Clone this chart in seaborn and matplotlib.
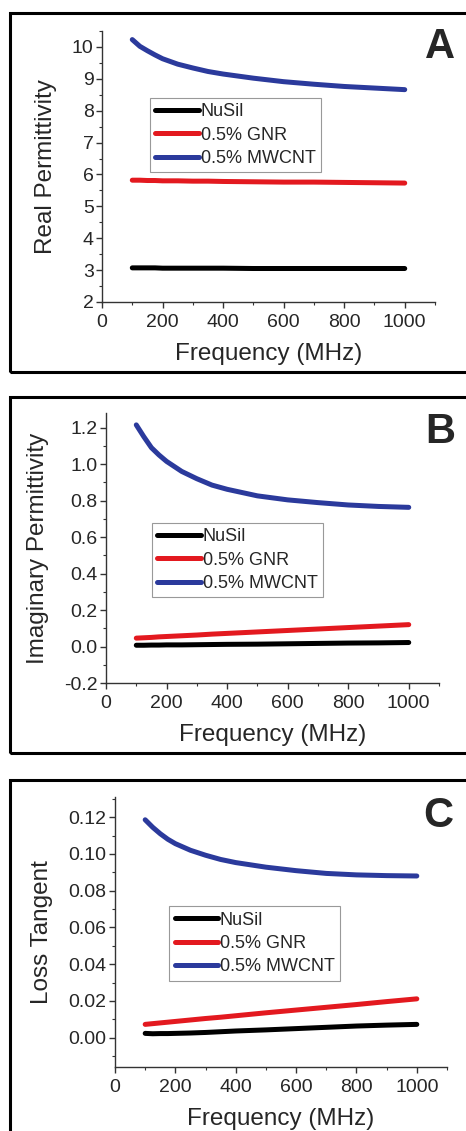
import numpy as np
import pandas as pd
import matplotlib
matplotlib.use("Agg")
import matplotlib.pyplot as plt
import seaborn as sns
from matplotlib.patches import Rectangle
from matplotlib.ticker import MultipleLocator, FormatStrFormatter
from matplotlib.lines import Line2D

freq = [100, 125, 150, 175, 200, 250, 300, 350, 400, 500, 600, 700, 800, 900, 1000]
samples = ["NuSil", "0.5% GNR", "0.5% MWCNT"]

real_nusil = [3.07, 3.07, 3.07, 3.07, 3.06, 3.06, 3.06, 3.06, 3.06, 3.05, 3.05, 3.05, 3.05, 3.05, 3.05]
real_gnr = [5.82, 5.82, 5.81, 5.81, 5.80, 5.80, 5.79, 5.79, 5.78, 5.77, 5.76, 5.76, 5.75, 5.74, 5.73]
real_mwcnt = [10.23, 10.02, 9.88, 9.75, 9.63, 9.46, 9.34, 9.23, 9.15, 9.02, 8.91, 8.83, 8.76, 8.71, 8.66]

imag_nusil = [0.007, 0.007, 0.008, 0.008, 0.009, 0.009, 0.010, 0.011, 0.012, 0.013, 0.015, 0.017, 0.019, 0.020, 0.022]
imag_gnr = [0.046, 0.048, 0.050, 0.053, 0.055, 0.059, 0.063, 0.068, 0.072, 0.080, 0.088, 0.096, 0.104, 0.112, 0.120]
imag_mwcnt = [1.215, 1.15, 1.09, 1.05, 1.015, 0.96, 0.92, 0.885, 0.862, 0.826, 0.804, 0.789, 0.776, 0.768, 0.763]

loss_nusil = [0.0023, 0.0021, 0.0022, 0.0022, 0.0023, 0.0025, 0.0028, 0.0032, 0.0036, 0.0042, 0.0049, 0.0056, 0.0063, 0.0068, 0.0072]
loss_gnr = [0.0072, 0.0076, 0.0080, 0.0084, 0.0088, 0.0096, 0.0104, 0.0111, 0.0119, 0.0135, 0.0150, 0.0165, 0.0180, 0.0196, 0.0211]
loss_mwcnt = [0.1186, 0.1145, 0.111, 0.108, 0.1056, 0.102, 0.0993, 0.097, 0.0953, 0.0928, 0.0909, 0.0894, 0.0886, 0.0882, 0.0880]

colors = {"NuSil": "#000000", "0.5% GNR": "#e3191f", "0.5% MWCNT": "#2b3a9c"}

sns.set_style("ticks")
plt.rcParams["font.family"] = ["Liberation Sans", "DejaVu Sans"]

fig = plt.figure(figsize=(4.66, 11.31), dpi=100)


def make_df(a, b, c):
    rows = []
    for s, vals in zip(samples, [a, b, c]):
        for f, v in zip(freq, vals):
            rows.append({"freq": f, "value": v, "sample": s})
    return pd.DataFrame(rows)


panels = [
    dict(rect=[0.2189, 0.7330, 0.7146, 0.2396], data=(real_nusil, real_gnr, real_mwcnt),
         ylim=(2, 10.5), major=1, minor=0.5, fmt="%d", ylabel="Real Permittivity",
         leg=(0.144, 0.753), letter="A", lpos=(440, 47)),
    dict(rect=[0.2275, 0.3961, 0.7146, 0.2387], data=(imag_nusil, imag_gnr, imag_mwcnt),
         ylim=(-0.2, 1.28), major=0.2, minor=0.1, fmt="%.1f", ylabel="Imaginary Permittivity",
         leg=(0.138, 0.593), letter="B", lpos=(440, 432)),
    dict(rect=[0.2468, 0.0566, 0.7124, 0.2387], data=(loss_nusil, loss_gnr, loss_mwcnt),
         ylim=(-0.016, 0.131), major=0.02, minor=0.01, fmt="%.2f", ylabel="Loss Tangent",
         leg=(0.163, 0.596), letter="C", lpos=(438, 816)),
]

for p in panels:
    ax = fig.add_axes(p["rect"])
    df = make_df(*p["data"])
    sns.lineplot(data=df, x="freq", y="value", hue="sample", palette=colors,
                 linewidth=3.6, ax=ax, legend=False, hue_order=samples)
    ax.set_xlim(0, 1100)
    ax.set_ylim(*p["ylim"])
    ax.set_xticks([0, 200, 400, 600, 800, 1000])
    ax.xaxis.set_minor_locator(MultipleLocator(100))
    ax.yaxis.set_major_locator(MultipleLocator(p["major"]))
    ax.yaxis.set_minor_locator(MultipleLocator(p["minor"]))
    ax.yaxis.set_major_formatter(FormatStrFormatter(p["fmt"]))
    for s in ["top", "right"]:
        ax.spines[s].set_visible(False)
    for s in ["left", "bottom"]:
        ax.spines[s].set_linewidth(1.0)
        ax.spines[s].set_color("#333333")
    ax.tick_params(which="major", direction="out", length=4, width=1, labelsize=14,
                   color="#333333")
    ax.tick_params(axis="x", which="major", pad=4.5)
    ax.tick_params(axis="y", which="major", pad=2)
    ax.tick_params(which="minor", direction="out", length=2.5, width=0.8, color="#333333")
    ax.set_xlabel("Frequency (MHz)", fontsize=17.5, labelpad=9)
    ax.set_ylabel(p["ylabel"], fontsize=17.5, labelpad=11)
    handles = [Line2D([0], [0], color=colors[s], lw=3.6) for s in samples]
    leg = ax.legend(handles, samples, loc="upper left", bbox_to_anchor=p["leg"],
                    fontsize=13, handlelength=2.4, handletextpad=0.1,
                    labelspacing=0.35, borderpad=0.3, borderaxespad=0,
                    fancybox=False, framealpha=1, edgecolor="#999999")
    leg.get_frame().set_linewidth(0.8)
    fig.text(p["lpos"][0] / 466, 1 - p["lpos"][1] / 1131, p["letter"], fontsize=30,
             fontweight="bold", ha="center", va="center")

# panel frames
for top, bottom in [(13, 372), (397, 753), (780, 1145)]:
    fig.add_artist(Rectangle((10 / 466, 1 - bottom / 1131), 1.1, (bottom - top) / 1131,
                             transform=fig.transFigure, fill=False, lw=2.2,
                             edgecolor="black", clip_on=False))

fig.savefig("out.png", dpi=100)
